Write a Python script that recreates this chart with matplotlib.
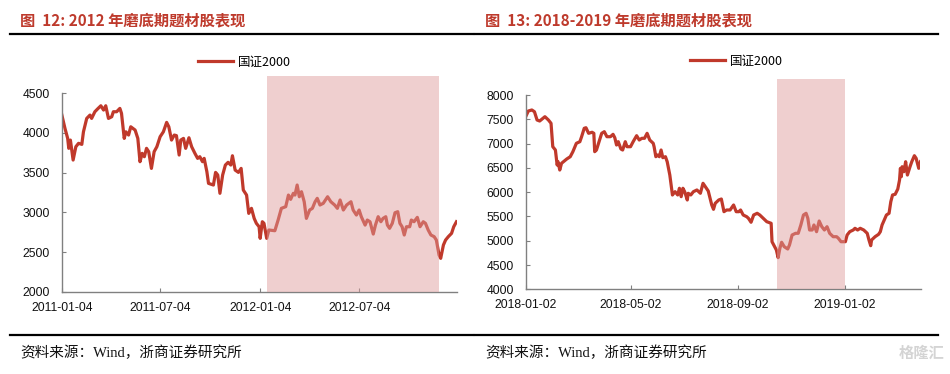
import matplotlib
matplotlib.use("Agg")
import matplotlib.pyplot as plt
import matplotlib.dates as mdates
from matplotlib.lines import Line2D
import pandas as pd

plt.rcParams['font.family'] = ['Liberation Sans', 'Noto Sans CJK SC', 'DejaVu Sans']

# ---------------- data ----------------
series_name = "国证2000"

left_title = "图  12: 2012 年磨底期题材股表现"
left_dates = [
    "2011-01-04", "2011-01-10", "2011-01-15", "2011-01-17", "2011-01-20", "2011-01-25", "2011-01-30",
    "2011-02-04", "2011-02-10", "2011-02-13", "2011-02-19", "2011-02-25", "2011-02-28", "2011-03-06",
    "2011-03-12", "2011-03-17", "2011-03-22", "2011-03-26", "2011-03-31", "2011-04-06", "2011-04-09",
    "2011-04-15", "2011-04-21", "2011-04-24", "2011-04-29", "2011-05-02", "2011-05-07", "2011-05-11",
    "2011-05-19", "2011-05-24", "2011-05-28", "2011-06-01", "2011-06-05", "2011-06-09", "2011-06-13",
    "2011-06-18", "2011-06-23", "2011-06-28", "2011-07-04", "2011-07-10", "2011-07-16", "2011-07-20",
    "2011-07-25", "2011-07-30", "2011-08-03", "2011-08-08", "2011-08-11", "2011-08-16", "2011-08-20",
    "2011-08-26", "2011-08-31", "2011-09-06", "2011-09-11", "2011-09-15", "2011-09-20", "2011-09-23",
    "2011-09-28", "2011-10-01", "2011-10-10", "2011-10-14", "2011-10-18", "2011-10-22", "2011-10-27",
    "2011-11-01", "2011-11-06", "2011-11-11", "2011-11-14", "2011-11-19", "2011-11-25", "2011-11-30",
    "2011-12-04", "2011-12-10", "2011-12-14", "2011-12-19", "2011-12-24", "2011-12-28", "2012-01-02",
    "2012-01-04", "2012-01-08", "2012-01-11", "2012-01-16", "2012-01-20", "2012-01-31", "2012-02-06",
    "2012-02-12", "2012-02-20", "2012-02-25", "2012-02-29", "2012-03-05", "2012-03-08", "2012-03-12",
    "2012-03-16", "2012-03-20", "2012-03-25", "2012-03-29", "2012-04-04", "2012-04-09", "2012-04-14",
    "2012-04-18", "2012-04-23", "2012-04-29", "2012-05-07", "2012-05-13", "2012-05-20", "2012-05-25",
    "2012-05-30", "2012-06-05", "2012-06-11", "2012-06-19", "2012-06-23", "2012-06-29", "2012-07-04",
    "2012-07-08", "2012-07-15", "2012-07-19", "2012-07-24", "2012-07-30", "2012-08-03", "2012-08-08",
    "2012-08-13", "2012-08-17", "2012-08-22", "2012-08-25", "2012-08-29", "2012-09-03", "2012-09-08",
    "2012-09-13", "2012-09-17", "2012-09-21", "2012-09-25", "2012-09-29", "2012-10-05", "2012-10-08",
    "2012-10-13", "2012-10-19", "2012-10-24", "2012-10-30", "2012-11-03", "2012-11-08", "2012-11-13",
    "2012-11-19", "2012-11-23", "2012-11-28", "2012-12-01", "2012-12-06", "2012-12-10", "2012-12-15",
    "2012-12-21", "2012-12-25", "2012-12-30",
]
left_values = [
    4232, 4056, 3930, 3805, 3909, 3658, 3825,
    3868, 3855, 4013, 4181, 4223, 4181, 4265,
    4307, 4340, 4286, 4340, 4181, 4202, 4265,
    4265, 4307, 4244, 3930, 4013, 3972, 4076,
    4035, 3930, 3637, 3742, 3700, 3805, 3763,
    3553, 3763, 3825, 3951, 4013, 4131, 4076,
    3909, 3972, 3965, 3721, 3909, 3930, 3805,
    3938, 3825, 3742, 3679, 3700, 3637, 3679,
    3511, 3365, 3344, 3503, 3470, 3240, 3470,
    3595, 3629, 3595, 3712, 3532, 3503, 3553,
    3281, 3218, 2988, 3051, 2925, 2863, 2820,
    2674, 2883, 2863, 2674, 2779, 2770, 2904,
    3051, 3072, 3218, 3164, 3240, 3218, 3344,
    3197, 3260, 3134, 2925, 3030, 3051, 3134,
    3177, 3093, 3114, 3197, 3134, 3093, 3051,
    3156, 3030, 3093, 3134, 3030, 2967, 3030,
    2946, 2841, 2904, 2883, 2728, 2841, 2946,
    2883, 2925, 2946, 2841, 2800, 2863, 2996,
    3009, 2863, 2820, 2716, 2820, 2820, 2904,
    2883, 2938, 2820, 2883, 2863, 2779, 2716,
    2695, 2653, 2465, 2423, 2590, 2653, 2695,
    2737, 2820, 2883,
]
left_shade = ("2012-01-16", "2012-11-27")
left_xlim = ("2011-01-04", "2012-12-31")
left_xticks = ["2011-01-04", "2011-07-04", "2012-01-04", "2012-07-04"]
left_yticks = [2000, 2500, 3000, 3500, 4000, 4500]

right_title = "图  13: 2018-2019 年磨底期题材股表现"
right_dates = [
    "2018-01-02", "2018-01-05", "2018-01-09", "2018-01-12", "2018-01-15", "2018-01-18", "2018-01-24",
    "2018-01-28", "2018-01-31", "2018-02-02", "2018-02-05", "2018-02-07", "2018-02-08", "2018-02-10",
    "2018-02-12", "2018-02-18", "2018-02-22", "2018-02-25", "2018-03-01", "2018-03-05", "2018-03-07",
    "2018-03-10", "2018-03-12", "2018-03-15", "2018-03-19", "2018-03-21", "2018-03-22", "2018-03-24",
    "2018-03-27", "2018-03-30", "2018-04-02", "2018-04-05", "2018-04-09", "2018-04-12", "2018-04-14",
    "2018-04-16", "2018-04-18", "2018-04-21", "2018-04-23", "2018-04-26", "2018-04-28", "2018-05-02",
    "2018-05-05", "2018-05-09", "2018-05-12", "2018-05-15", "2018-05-18", "2018-05-21", "2018-05-24",
    "2018-05-28", "2018-05-29", "2018-05-31", "2018-06-02", "2018-06-04", "2018-06-06", "2018-06-08",
    "2018-06-11", "2018-06-13", "2018-06-16", "2018-06-18", "2018-06-19", "2018-06-22", "2018-06-25",
    "2018-06-27", "2018-06-29", "2018-07-01", "2018-07-03", "2018-07-06", "2018-07-07", "2018-07-10",
    "2018-07-13", "2018-07-17", "2018-07-21", "2018-07-24", "2018-07-30", "2018-08-03", "2018-08-05",
    "2018-08-07", "2018-08-11", "2018-08-14", "2018-08-17", "2018-08-20", "2018-08-24", "2018-08-28",
    "2018-08-31", "2018-09-03", "2018-09-05", "2018-09-08", "2018-09-12", "2018-09-14", "2018-09-17",
    "2018-09-20", "2018-09-24", "2018-09-27", "2018-10-01", "2018-10-05", "2018-10-10", "2018-10-11",
    "2018-10-14", "2018-10-16", "2018-10-18", "2018-10-20", "2018-10-22", "2018-10-25", "2018-10-29",
    "2018-10-31", "2018-11-03", "2018-11-07", "2018-11-10", "2018-11-13", "2018-11-16", "2018-11-19",
    "2018-11-21", "2018-11-23", "2018-11-26", "2018-11-28", "2018-12-01", "2018-12-04", "2018-12-07",
    "2018-12-10", "2018-12-13", "2018-12-16", "2018-12-20", "2018-12-24", "2018-12-26", "2018-12-29",
    "2019-01-03", "2019-01-05", "2019-01-08", "2019-01-12", "2019-01-14", "2019-01-17", "2019-01-20",
    "2019-01-24", "2019-01-28", "2019-01-30", "2019-02-01", "2019-02-02", "2019-02-06", "2019-02-10",
    "2019-02-12", "2019-02-14", "2019-02-16", "2019-02-19", "2019-02-22", "2019-02-24", "2019-02-26",
    "2019-03-01", "2019-03-04", "2019-03-06", "2019-03-07", "2019-03-08", "2019-03-09", "2019-03-11",
    "2019-03-13", "2019-03-15", "2019-03-18", "2019-03-20", "2019-03-23", "2019-03-25", "2019-03-28",
    "2019-03-30",
]
right_values = [
    7554, 7671, 7692, 7657, 7486, 7465, 7554,
    7486, 7418, 6936, 6868, 6559, 6627, 6456,
    6594, 6683, 6730, 6833, 7006, 7039, 7142,
    7315, 7327, 7212, 7233, 7212, 6833, 6868,
    7039, 7212, 7245, 7142, 7142, 7191, 7121,
    6971, 7039, 6889, 6868, 7039, 6936, 6936,
    7039, 7163, 7074, 7109, 7109, 7212, 7074,
    7006, 6936, 6730, 6765, 6730, 6868, 6710,
    6730, 6627, 6353, 6080, 5942, 6010, 5942,
    6080, 5907, 6080, 6010, 5839, 5977, 5942,
    6010, 6045, 5977, 6183, 6024, 5736, 5647,
    5771, 5839, 5859, 5598, 5633, 5633, 5736,
    5598, 5598, 5633, 5530, 5495, 5462, 5380,
    5530, 5565, 5530, 5462, 5392, 5359, 4980,
    4877, 4809, 4651, 4844, 4968, 4877, 4830,
    4912, 5118, 5153, 5153, 5324, 5530, 5565,
    5462, 5221, 5221, 5324, 5186, 5406, 5289,
    5221, 5289, 5153, 5083, 5083, 5050, 4980,
    4980, 5118, 5186, 5221, 5256, 5221, 5256,
    5221, 5153, 5015, 4898, 5015, 5083, 5132,
    5186, 5324, 5406, 5530, 5565, 5804, 5942,
    5956, 6065, 6250, 6491, 6318, 6524, 6421,
    6627, 6353, 6524, 6627, 6751, 6697, 6491,
    6627,
]
right_shade = ("2018-10-17", "2019-01-03")
right_xlim = ("2018-01-02", "2019-03-30")
right_xticks = ["2018-01-02", "2018-05-02", "2018-09-02", "2019-01-02"]
right_yticks = [4000, 4500, 5000, 5500, 6000, 6500, 7000, 7500, 8000]

source_text = "资料来源：Wind，浙商证券研究所"

# ---------------- style ----------------
W, H = 950, 374
RED = "#C0392B"
TITLE_RED = "#BE3A2C"
SHADE = "#DE9C9C"
SPINE = "#808080"

fig = plt.figure(figsize=(W / 100, H / 100), dpi=100)


def fx(px):
    return px / W


def fy(py):
    return 1 - py / H


def make_panel(ax_px, dates, values, shade, xlim, xticks, yticks, ytop, legend_px):
    x0, x1, ytop_px, ybot_px = ax_px
    ax = fig.add_axes([fx(x0), fy(ybot_px), fx(x1 - x0), (ybot_px - ytop_px) / H])
    d = pd.to_datetime(dates)
    line, = ax.plot(d, values, color=RED, lw=2.3, solid_joinstyle="round", zorder=2,
                    label=series_name)
    ax.axvspan(pd.Timestamp(shade[0]), pd.Timestamp(shade[1]), color=SHADE, alpha=0.48,
               lw=0, zorder=3)
    ax.set_xlim(pd.Timestamp(xlim[0]), pd.Timestamp(xlim[1]))
    ax.set_ylim(yticks[0], ytop)
    ax.set_yticks(yticks)
    ax.set_yticklabels([str(v) for v in yticks])
    xt = pd.to_datetime(xticks)
    ax.set_xticks(xt)
    ax.set_xticklabels(xticks)
    for s in ("top", "right"):
        ax.spines[s].set_visible(False)
    ax.spines["left"].set_bounds(yticks[0], yticks[-1])
    for s in ("left", "bottom"):
        ax.spines[s].set_color(SPINE)
        ax.spines[s].set_linewidth(1.0)
    ax.tick_params(axis="y", direction="in", length=3, width=0.8, color=SPINE,
                   labelsize=8.7, pad=8.5, labelcolor="#111111")
    ax.tick_params(axis="x", direction="in", length=3, width=0.8, color=SPINE,
                   labelsize=8.7, pad=7, labelcolor="#111111")
    ax.patch.set_alpha(0)
    lx, ly = legend_px
    fig.legend(handles=[line], labels=[series_name], loc="center left",
               bbox_to_anchor=(fx(lx), fy(ly)), frameon=False,
               handlelength=2.8, handletextpad=0.4, borderpad=0, borderaxespad=0,
               prop={"family": ["Noto Sans CJK SC", "Liberation Sans"], "size": 9})
    return ax


make_panel((61.7, 457, 76, 292), left_dates, left_values, left_shade, left_xlim,
           left_xticks, left_yticks, 4714, (198, 62))
make_panel((525.7, 920.5, 79, 289.3), right_dates, right_values, right_shade, right_xlim,
           right_xticks, right_yticks, 8330, (690, 61))

# titles
fig.text(fx(20), fy(20), left_title, color=TITLE_RED, fontsize=11, fontweight="bold",
         family=["Noto Sans CJK SC", "Liberation Sans"], va="center", ha="left")
fig.text(fx(485), fy(20), right_title, color=TITLE_RED, fontsize=11, fontweight="bold",
         family=["Noto Sans CJK SC", "Liberation Sans"], va="center", ha="left")

# rules
for (a, b) in ((10, 473), (475, 938)):
    fig.add_artist(Line2D([fx(a), fx(b)], [fy(34), fy(34)], color="black", lw=1.6,
                          transform=fig.transFigure))
    fig.add_artist(Line2D([fx(a), fx(b)], [fy(335), fy(335)], color="black", lw=1.6,
                          transform=fig.transFigure))

# sources
for x in (20, 485):
    fig.text(fx(x), fy(353), source_text, fontsize=10.5, color="#111111",
             family=["Liberation Serif", "Noto Sans CJK SC"], va="center", ha="left")

# watermark
fig.text(fx(944), fy(353), "格隆汇", fontsize=11, color="#d4d4d4", fontweight="bold",
         family=["Noto Sans CJK SC"], va="center", ha="right")

fig.savefig("out.png", dpi=100)
